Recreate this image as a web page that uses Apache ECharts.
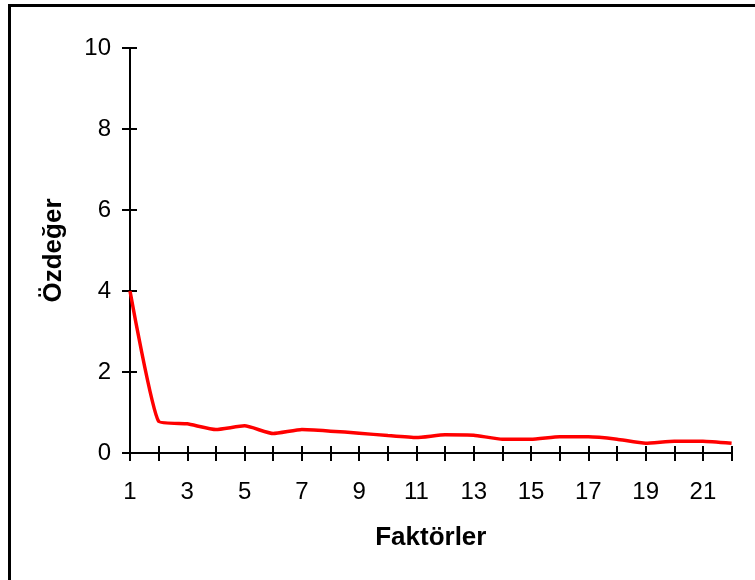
<!DOCTYPE html>
<html>
<head>
<meta charset="utf-8">
<script src="https://cdn.jsdelivr.net/npm/echarts@6/dist/echarts.min.js"></script>
<style>
html,body{margin:0;padding:0;background:#fff;}
#chart{width:755px;height:580px;}
</style>
</head>
<body>
<div id="chart"></div>
<script>
const categories = ['1','2','3','4','5','6','7','8','9','10','11','12','13','14','15','16','17','18','19','20','21','22'];
const eigenvalues = [4.0, 0.78, 0.72, 0.58, 0.67, 0.48, 0.58, 0.54, 0.49, 0.43, 0.38, 0.45, 0.44, 0.34, 0.34, 0.40, 0.40, 0.34, 0.24, 0.29, 0.29, 0.24];
const yTicks = {min: 0, max: 10, interval: 2};
const xTitle = 'Faktörler';
const yTitle = 'Özdeğer';

const FONT = '"Liberation Sans", Arial, sans-serif';
const chart = echarts.init(document.getElementById('chart'), null, {renderer: 'canvas'});
chart.setOption({
  animation: false,
  backgroundColor: '#fff',
  graphic: [{
    type: 'rect', z: -10,
    shape: {x: 9.5, y: 5.5, width: 800, height: 620},
    style: {fill: 'none', stroke: '#000', lineWidth: 3}
  }],
  grid: {left: 130, right: 23.4, top: 48, bottom: 127, containLabel: false},
  xAxis: [{
    type: 'category', data: categories, boundaryGap: false,
    name: xTitle, nameLocation: 'middle', nameGap: 72,
    nameTextStyle: {fontFamily: FONT, fontSize: 26, fontWeight: 'bold', color: '#000'},
    axisLine: {lineStyle: {color: '#000', width: 2}},
    axisTick: {show: true, inside: false, length: 8, interval: 0, lineStyle: {color: '#000', width: 2}},
    axisLabel: {interval: 1, margin: 27, fontFamily: FONT, fontSize: 24, color: '#000'},
    splitLine: {show: false}
  }, {
    type: 'category', data: categories, boundaryGap: false, position: 'bottom',
    axisLine: {show: false},
    axisTick: {show: true, inside: true, length: 7, interval: 0, lineStyle: {color: '#000', width: 2}},
    axisLabel: {show: false},
    splitLine: {show: false}
  }],
  yAxis: [{
    type: 'value', min: yTicks.min, max: yTicks.max, interval: yTicks.interval,
    name: yTitle, nameLocation: 'middle', nameGap: 63, nameRotate: 90,
    nameTextStyle: {fontFamily: FONT, fontSize: 26, fontWeight: 'bold', color: '#000'},
    axisLine: {show: true, lineStyle: {color: '#000', width: 2}},
    axisTick: {show: true, inside: false, length: 8, lineStyle: {color: '#000', width: 2}},
    axisLabel: {margin: 19, fontFamily: FONT, fontSize: 24, color: '#000'},
    splitLine: {show: false}
  }, {
    type: 'value', min: yTicks.min, max: yTicks.max, interval: yTicks.interval, position: 'left', offset: 0,
    axisLine: {show: false},
    axisTick: {show: true, inside: true, length: 7, lineStyle: {color: '#000', width: 2}},
    axisLabel: {show: false},
    splitLine: {show: false}
  }],
  series: [{
    type: 'line', data: eigenvalues, xAxisIndex: 0, yAxisIndex: 0,
    smooth: 0.15, symbol: 'none',
    lineStyle: {color: '#ff0000', width: 3.5},
    z: 5
  }]
});
</script>
</body>
</html>
